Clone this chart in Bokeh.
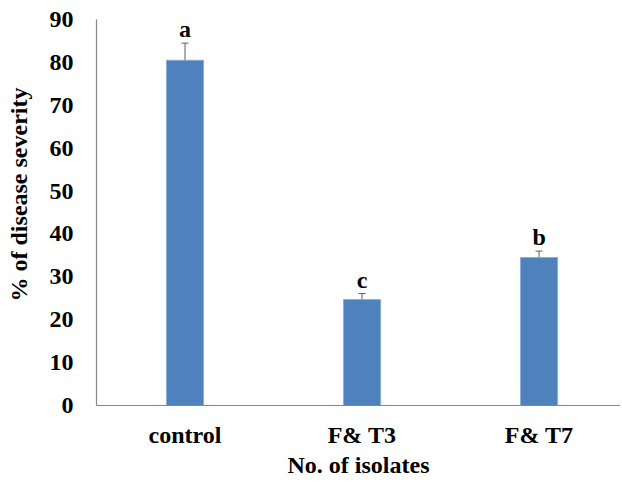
from bokeh.plotting import figure
from bokeh.models import ColumnDataSource, Range1d, FixedTicker, Whisker, TeeHead
from bokeh.embed import file_html
from bokeh.resources import INLINE
from bokeh.core.properties import value

categories = ["control", "F& T3", "F& T7"]
severity = [80.5, 24.7, 34.5]
errors = [4.0, 1.4, 1.5]
letters = ["a", "c", "b"]
y_ticks = [0, 10, 20, 30, 40, 50, 60, 70, 80, 90]
x_title = "No. of isolates"
y_title = "% of disease severity"

xs = [i + 0.5 for i in range(len(categories))]
src = ColumnDataSource(dict(
    x=xs, y=severity,
    lower=[v - e for v, e in zip(severity, errors)],
    upper=[v + e for v, e in zip(severity, errors)],
    letter=letters,
))

FONT = "Liberation Serif"
FS = "24px"

p = figure(width=620, height=480, output_backend="svg", toolbar_location=None,
           x_range=Range1d(0, 2.96), y_range=Range1d(0, 90),
           min_border_left=96, min_border_right=0, min_border_top=19, min_border_bottom=74)
p.outline_line_color = None
p.xgrid.visible = False
p.ygrid.visible = False
p.background_fill_color = "white"
p.border_fill_color = "white"

p.vbar(x="x", top="y", bottom=0, width=0.21, source=src,
       fill_color="#4F81BD", line_color="#8EAEDB", line_width=1)

w = Whisker(base="x", upper="upper", lower="lower", source=src,
            line_color="#5F5F5F", line_width=1,
            upper_head=TeeHead(size=7, line_color="#5F5F5F", line_width=1),
            lower_head=TeeHead(size=7, line_color="#5F5F5F", line_width=1))
p.add_layout(w)

p.text(x="x", y="upper", text="letter", source=src, text_align="center",
       text_baseline="middle", y_offset=-14, text_font=value(FONT),
       text_font_style="bold", text_font_size=FS, text_color="black")

p.xaxis.ticker = FixedTicker(ticks=xs)
p.xaxis.major_label_overrides = {x: c for x, c in zip(xs, categories)}
p.yaxis.ticker = FixedTicker(ticks=y_ticks)

for ax in (p.xaxis[0], p.yaxis[0]):
    ax.axis_line_color = "#868686"
    ax.axis_line_width = 1.2
    ax.major_tick_line_color = None
    ax.minor_tick_line_color = None
    ax.major_label_text_font = FONT
    ax.major_label_text_font_style = "bold"
    ax.major_label_text_font_size = FS
    ax.major_label_text_color = "black"
    ax.axis_label_text_font = FONT
    ax.axis_label_text_font_style = "bold"
    ax.axis_label_text_font_size = FS
    ax.axis_label_text_color = "black"

p.xaxis.axis_label = x_title
p.yaxis.axis_label = "\u00a0" * 6 + y_title
p.xaxis.major_label_standoff = 10
p.xaxis.axis_label_standoff = 1
p.yaxis.major_label_standoff = 17
p.yaxis.axis_label_standoff = 15

open("out.html", "w").write(file_html(p, INLINE))
